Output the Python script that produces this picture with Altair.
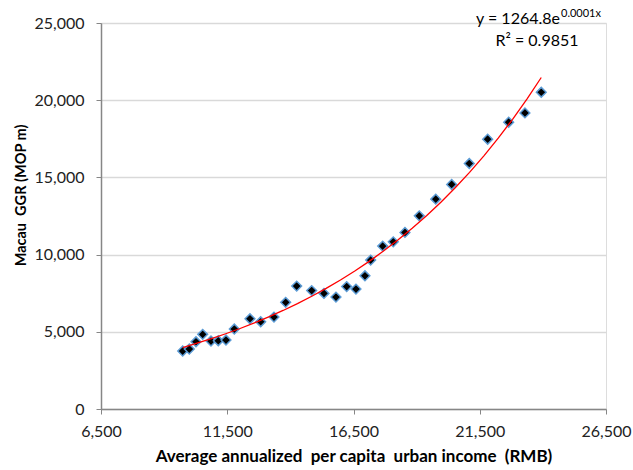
import altair as alt
import pandas as pd

# Average annualized per capita urban income (RMB)
income = [9735, 9997, 10262, 10527, 10856, 11145, 11450, 11779, 12400, 12824,
          13351, 13814, 14250, 14844, 15331, 15806, 16230, 16598, 16954, 17180,
          17655, 18075, 18538, 19105, 19758, 20388, 21085, 21813, 22645, 23290,
          23936]
# Macau GGR (MOP m)
ggr = [3754, 3883, 4356, 4835, 4401, 4420, 4466, 5178, 5844, 5650,
       5954, 6906, 7961, 7669, 7488, 7249, 7928, 7766, 8627, 9643,
       10549, 10828, 11436, 12510, 13591, 14543, 15902, 17474, 18575, 19177,
       20516]

x_ticks = [6500, 11500, 16500, 21500, 26500]
y_ticks = [0, 5000, 10000, 15000, 20000, 25000]

eq_main = "y = 1264.8e"
eq_sup = "0.0001x"
r2_text = "R² = 0.9851"

df = pd.DataFrame({"income": income, "ggr": ggr})

FONT = "Lato"
AX = "#868686"
LBL = "format(datum.value, ',.0f')"

xscale = alt.Scale(domain=[6500, 26500], nice=False, zero=False)
yscale = alt.Scale(domain=[0, 25000], nice=False, zero=True)

X = alt.X("income:Q", scale=xscale,
          axis=alt.Axis(values=x_ticks, labelExpr=LBL, grid=False,
                        title="Average annualized\u00a0 per capita\u00a0 urban income\u00a0 (RMB)",
                        titleFont=FONT, titleFontSize=17, titleFontWeight="bold",
                        titleColor="black", titlePadding=9,
                        labelFont=FONT, labelFontSize=16, labelColor="#222222",
                        labelPadding=9, tickSize=5, tickColor=AX,
                        domainColor=AX, domainWidth=1.5, labelFlush=False))
Y = alt.Y("ggr:Q", scale=yscale,
          axis=alt.Axis(values=y_ticks, labelExpr=LBL, grid=True,
                        gridColor="#d9d9d9", gridWidth=1.5,
                        title="Macau\u00a0 GGR (MOP m)",
                        titleFont=FONT, titleFontSize=14.5, titleFontWeight="bold",
                        titleColor="black", titleY=172, titlePadding=5,
                        labelFont=FONT, labelFontSize=16, labelColor="#222222",
                        labelPadding=12, tickSize=5, tickColor=AX,
                        domainColor=AX, domainWidth=1.5))

base = alt.Chart(df)

points = base.mark_point(
    shape="diamond", filled=True, fill="black", stroke="#5b9bd5",
    strokeWidth=1.5, size=95, opacity=1
).encode(x=X, y=Y)

trend = base.transform_regression(
    "income", "ggr", method="exp"
).mark_line(color="#ff0000", strokeWidth=1.3).encode(x=X, y=Y)

t1 = alt.Chart(pd.DataFrame({"t": [eq_main]})).mark_text(
    align="right", baseline="alphabetic", font=FONT, fontSize=16, color="black"
).encode(x=alt.value(459), y=alt.value(1), text="t:N")

t2 = alt.Chart(pd.DataFrame({"t": [eq_sup]})).mark_text(
    align="left", baseline="alphabetic", font=FONT, fontSize=11, color="black"
).encode(x=alt.value(460), y=alt.value(-6), text="t:N")

t3 = alt.Chart(pd.DataFrame({"t": [r2_text]})).mark_text(
    align="center", baseline="alphabetic", font=FONT, fontSize=16, color="black"
).encode(x=alt.value(436), y=alt.value(23), text="t:N")

chart = alt.layer(points, trend, t1, t2, t3).properties(
    width=505, height=386,
    padding={"left": 101, "top": 23, "right": 27, "bottom": 61},
    autosize=alt.AutoSizeParams(type="none"),
).configure_view(stroke=None).configure(background="white")

chart.save("out.html", embed_options={"renderer": "svg", "actions": False})
